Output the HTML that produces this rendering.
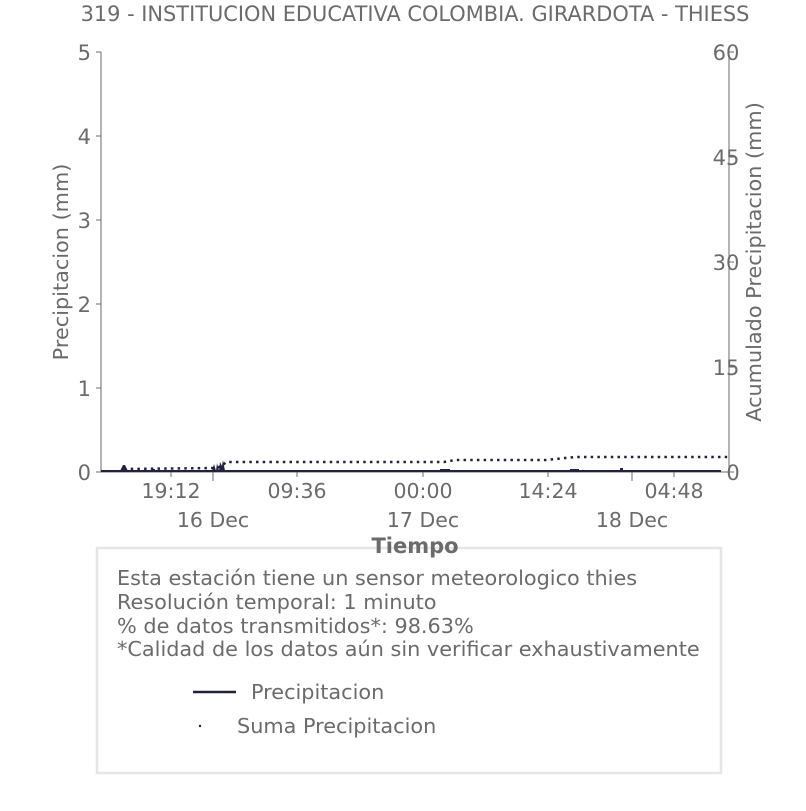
<!DOCTYPE html>
<html><head><meta charset="utf-8"><style>
body{margin:0;background:#fff;}
svg text{font-family:"DejaVu Sans","Liberation Sans",sans-serif;fill:#6b6b6b;}
</style></head><body>
<svg width="806" height="806" viewBox="0 0 806 806" xmlns="http://www.w3.org/2000/svg">
<text x="415" y="21" font-size="20.9" text-anchor="middle">319 - INSTITUCION EDUCATIVA COLOMBIA. GIRARDOTA - THIESS</text>
<g stroke="#6b6b6b" stroke-width="1" fill="none">
<line x1="101" y1="52" x2="101" y2="472"/>
<line x1="729" y1="52" x2="729" y2="472"/>
<line x1="96" y1="472" x2="729" y2="472"/>
<line x1="96" y1="52" x2="101" y2="52"/><line x1="96" y1="136" x2="101" y2="136"/><line x1="96" y1="220" x2="101" y2="220"/><line x1="96" y1="304" x2="101" y2="304"/><line x1="96" y1="388" x2="101" y2="388"/>
<line x1="729" y1="52" x2="734" y2="52"/><line x1="729" y1="157" x2="734" y2="157"/><line x1="729" y1="262" x2="734" y2="262"/><line x1="729" y1="367" x2="734" y2="367"/><line x1="729" y1="472" x2="734" y2="472"/>
<line x1="171" y1="472" x2="171" y2="477"/><line x1="297" y1="472" x2="297" y2="477"/><line x1="423" y1="472" x2="423" y2="477"/><line x1="548" y1="472" x2="548" y2="477"/><line x1="674" y1="472" x2="674" y2="477"/>
<line x1="213" y1="472" x2="213" y2="481"/><line x1="632" y1="472" x2="632" y2="481"/>
</g>
<g font-size="21" text-anchor="end">
<text x="91" y="60">5</text><text x="91" y="144">4</text><text x="91" y="228">3</text><text x="91" y="312">2</text><text x="91" y="396">1</text><text x="91" y="480">0</text>
</g>
<g font-size="21" text-anchor="middle">
<text x="726" y="60">60</text><text x="726" y="165">45</text><text x="726" y="270">30</text><text x="726" y="375">15</text><text x="733" y="480">0</text>
</g>
<g font-size="20.5" text-anchor="middle">
<text x="171" y="498">19:12</text><text x="297" y="498">09:36</text><text x="423" y="498">00:00</text><text x="548" y="498">14:24</text><text x="674" y="498">04:48</text>
<text x="213" y="527">16 Dec</text><text x="423" y="527">17 Dec</text><text x="632" y="527">18 Dec</text>
</g>
<text transform="translate(68,262) rotate(-90)" font-size="20.8" text-anchor="middle">Precipitacion (mm)</text>
<text transform="translate(761,262) rotate(-90)" font-size="20.8" text-anchor="middle">Acumulado Precipitacion (mm)</text>
<g fill="#22223f" stroke="none">
<rect x="101" y="470" width="620" height="2"/>
<polygon points="120,471 123,465 125,465 128,471"/>
<polygon points="212,471 214,464 216,471 217,463 219,471 220,462 222,466 223,460 225,471"/>
<rect x="152" y="469" width="3" height="2"/><rect x="440" y="469" width="10" height="2"/><rect x="570" y="469" width="9" height="2"/><rect x="620" y="468" width="3" height="3"/>
</g>
<g stroke="#22223f" stroke-width="2.5" stroke-dasharray="2.5,4.2" fill="none">
<polyline points="124,469 216,468 222,466 226,462 444,462 455,460 546,460 575,457 729,457"/>
</g>
<rect x="97" y="548" width="624" height="225" fill="none" stroke="#e6e6e6" stroke-width="2.5"/>
<text x="415" y="553" font-size="21" font-weight="bold" text-anchor="middle">Tiempo</text>
<g font-size="20.8">
<text x="117" y="585">Esta estación tiene un sensor meteorologico thies</text>
<text x="117" y="609">Resolución temporal: 1 minuto</text>
<text x="117" y="633">% de datos transmitidos*: 98.63%</text>
<text x="117" y="656">*Calidad de los datos aún sin verificar exhaustivamente</text>
<text x="251" y="699">Precipitacion</text>
<text x="237" y="733">Suma Precipitacion</text>
</g>
<line x1="193" y1="692" x2="236" y2="692" stroke="#22223f" stroke-width="2.5"/>
<circle cx="200" cy="726" r="1.2" fill="#22223f"/>
</svg>
</body></html>
